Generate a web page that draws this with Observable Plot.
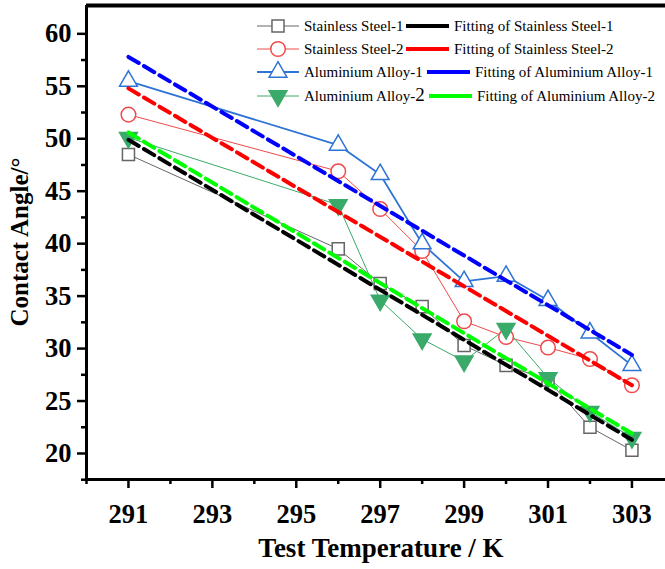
<!DOCTYPE html>
<html>
<head>
<meta charset="utf-8">
<script src="https://cdn.jsdelivr.net/npm/d3@7"></script>
<script src="https://cdn.jsdelivr.net/npm/@observablehq/plot@0.6"></script>
<style>
  html, body { margin: 0; padding: 0; background: #fff; }
  #chart svg { display: block; }
</style>
</head>
<body>
<div id="chart"></div>
<script>
// ---- data ----
const temperatures = [291, 296, 297, 298, 299, 300, 301, 302, 303];
const seriesNames = ["Stainless Steel-1", "Stainless Steel-2", "Aluminium Alloy-1", "Aluminium Alloy-2"];
const stainless1 = [48.5, 39.5, 36.2, 34.0, 30.3, 28.4, 27.0, 22.5, 20.3];
const stainless2 = [52.3, 46.9, 43.3, 39.3, 32.6, 31.1, 30.1, 29.0, 26.5];
const aluminium1 = [55.5, 49.4, 46.6, 40.0, 36.4, 36.9, 34.6, 31.5, 28.4];
const aluminium2 = [50.1, 43.7, 34.6, 30.9, 28.8, 31.9, 27.2, 24.0, 21.5];
const fitNames = ["Fitting of Stainless Steel-1", "Fitting of Stainless Steel-2", "Fitting of Aluminium Alloy-1", "Fitting of Aluminium Alloy-2"];
const fitX = [291, 303];
const fitStart = [49.9, 54.8, 57.8, 50.6];
const fitEnd = [21.3, 26.5, 29.4, 21.9];
const xTicks = [291, 293, 295, 297, 299, 301, 303];
const xMinorTicks = [290, 292, 294, 296, 298, 300, 302];
const yTicks = [20, 25, 30, 35, 40, 45, 50, 55, 60];
const yMinorTicks = [17.5, 22.5, 27.5, 32.5, 37.5, 42.5, 47.5, 52.5, 57.5];

// ---- styles ----
const lineColors = ["#666666", "#f04a4a", "#2e74d6", "#3aaa6a"];
const lineWidths = [1, 1, 1.8, 1];
const fitColors = ["#000000", "#ff0000", "#0000ff", "#00ff00"];

const triangleDown = {
  draw(context, size) {
    const y = -Math.sqrt(size / (Math.sqrt(3) * 3));
    context.moveTo(0, -2 * y);
    context.lineTo(-Math.sqrt(3) * y, y);
    context.lineTo(Math.sqrt(3) * y, y);
    context.closePath();
  }
};
const symbols = ["square", "circle", "triangle", triangleDown];
const d3symbols = [d3.symbolSquare, d3.symbolCircle, d3.symbolTriangle, triangleDown];
const radii = [6.8, 7.3, 6.6, 6.6];
const fills = ["white", "white", "white", "#3aaa6a"];

const allSeries = [stainless1, stainless2, aluminium1, aluminium2];
const rows = [];
allSeries.forEach((vals, i) => vals.forEach((v, j) => rows.push({series: seriesNames[i], idx: i, x: temperatures[j], y: v})));
const fitRows = [];
fitNames.forEach((n, i) => {
  fitRows.push({series: n, idx: i, x: fitX[0], y: fitStart[i]});
  fitRows.push({series: n, idx: i, x: fitX[1], y: fitEnd[i]});
});

const X0 = 290, X1 = 303.8, Y0 = 17.52, Y1 = 62.7;

const marks = [];
seriesNames.forEach((n, i) => {
  marks.push(Plot.line(rows.filter(d => d.idx === i), {x: "x", y: "y", stroke: lineColors[i], strokeWidth: lineWidths[i]}));
});
seriesNames.forEach((n, i) => {
  marks.push(Plot.dot(rows.filter(d => d.idx === i), {x: "x", y: "y", symbol: () => symbols[i], r: radii[i], stroke: lineColors[i], fill: fills[i], strokeWidth: 1.5}));
});
fitNames.forEach((n, i) => {
  marks.push(Plot.line(fitRows.filter(d => d.idx === i), {x: "x", y: "y", stroke: fitColors[i], strokeWidth: 4, strokeDasharray: "12,6"}));
});
marks.push(
  Plot.ruleX([X0], {stroke: "black", strokeWidth: 3}),
  Plot.ruleY([Y0], {stroke: "black", strokeWidth: 3}),
  Plot.ruleY([Y1], {stroke: "black", strokeWidth: 4}),
  Plot.axisY(yTicks, {tickSize: 9, tickPadding: 6, strokeWidth: 2.5, fontSize: 26.5, fontWeight: "bold", label: null, fill: "black"}),
  Plot.axisY(yMinorTicks, {tickSize: 5, strokeWidth: 2.5, text: null, label: null}),
  Plot.axisX(xTicks, {tickSize: 9, tickPadding: 16, strokeWidth: 2.5, fontSize: 26.5, fontWeight: "bold", label: null, fill: "black", tickFormat: d => String(d)}),
  Plot.axisX(xMinorTicks, {tickSize: 5, strokeWidth: 2.5, text: null, label: null})
);

const chart = Plot.plot({
  width: 665,
  height: 569,
  marginLeft: 86,
  marginRight: 0,
  marginTop: 5,
  marginBottom: 90,
  style: {fontFamily: "'Liberation Serif', 'Times New Roman', serif", background: "white", color: "black"},
  x: {domain: [X0, X1]},
  y: {domain: [Y0, Y1]},
  marks
});
document.getElementById("chart").appendChild(chart);

// ---- axis titles & legend ----
const svg = d3.select(chart);
svg.append("text")
  .attr("x", 381).attr("y", 557)
  .attr("text-anchor", "middle")
  .style("font", "bold 27px 'Liberation Serif', serif")
  .text("Test Temperature / K");
svg.append("text")
  .attr("transform", "translate(28,242) rotate(-90)")
  .attr("text-anchor", "middle")
  .style("font", "bold 25px 'Liberation Serif', serif")
  .text("Contact Angle/°");

const legRowY = [26, 49, 72, 96];
const fitSampleX = [[406, 449], [406, 449], [427, 470], [429, 472]];
const lg = svg.append("g").style("font", "15px 'Liberation Serif', serif").attr("text-anchor", "start");
seriesNames.forEach((n, i) => {
  const y = legRowY[i];
  lg.append("line").attr("x1", 257).attr("x2", 299).attr("y1", y).attr("y2", y)
    .attr("stroke", lineColors[i]).attr("stroke-width", lineWidths[i]);
  lg.append("path").attr("d", d3.symbol(d3symbols[i], Math.PI * radii[i] * radii[i])())
    .attr("transform", `translate(278,${y})`)
    .attr("stroke", lineColors[i]).attr("stroke-width", 1.5).attr("fill", fills[i]);
  const t = lg.append("text").attr("x", 304).attr("y", y).attr("dy", "0.35em").attr("text-anchor", "start");
  if (i === 3) {
    t.append("tspan").text(n.slice(0, -1));
    t.append("tspan").style("font-size", "19px").text(n.slice(-1));
  } else t.text(n);
  const [a, b] = fitSampleX[i];
  lg.append("line").attr("x1", a).attr("x2", b).attr("y1", y).attr("y2", y)
    .attr("stroke", fitColors[i]).attr("stroke-width", 4);
  lg.append("text").attr("x", b + 5).attr("y", y).attr("dy", "0.35em").attr("text-anchor", "start").text(fitNames[i]);
});
</script>
</body>
</html>
